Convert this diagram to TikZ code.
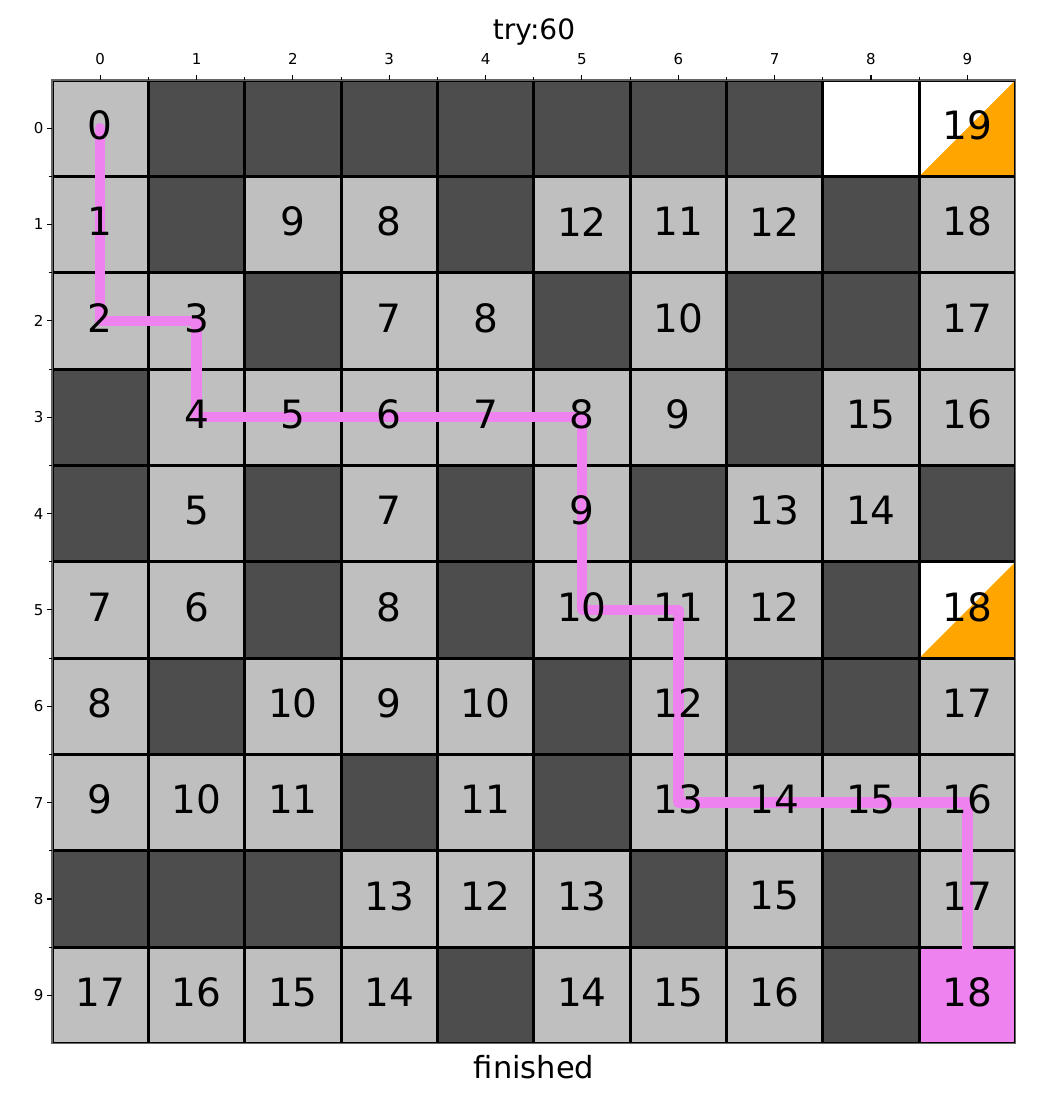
\documentclass[tikz,border=0pt]{standalone}
\usepackage{fontspec}
\setmainfont{DejaVu Sans}
\definecolor{lightc}{HTML}{BFBFBF}
\definecolor{darkc}{HTML}{4D4D4D}
\definecolor{orangec}{HTML}{FFA500}
\definecolor{pathv}{HTML}{EE82EE}
\begin{document}
\begin{tikzpicture}[x=1pt,y=-1pt,
  cellbox/.style={minimum size=96.35pt, inner sep=0pt, outer sep=0pt, draw=none},
  gridline/.style={line width=3pt, black},
  spine/.style={line width=1.1pt, black!60},
  num/.style={inner sep=0pt, font=\fontsize{39}{39}\selectfont},
  ticklab/.style={inner sep=0pt, font=\fontsize{15}{15}\selectfont},
  tickmark/.style={line width=1.1pt, black},
  route/.style={line width=10.5pt, pathv, line cap=round, line join=round}
]
\useasboundingbox (0,0) rectangle (1055,1095);
\begin{scope}
\clip (52,80) rectangle (1015.5,1043.5);
\foreach \c/\r in {1/0,2/0,3/0,4/0,5/0,6/0,7/0,
  1/1,4/1,8/1, 2/2,5/2,7/2,8/2, 0/3,7/3, 0/4,2/4,4/4,6/4,9/4,
  2/5,4/5,8/5, 1/6,5/6,7/6,8/6, 3/7,5/7, 0/8,1/8,2/8,6/8,8/8, 4/9,8/9}
  \node[cellbox, fill=darkc] (c-\c-\r) at ({52+96.35*(\c+0.5)},{80+96.35*(\r+0.5)}) {};
\foreach \c/\r/\f in {0/0/lightc,8/0/white,9/0/white,
  0/1/lightc,2/1/lightc,3/1/lightc,5/1/lightc,6/1/lightc,7/1/lightc,9/1/lightc,
  0/2/lightc,1/2/lightc,3/2/lightc,4/2/lightc,6/2/lightc,9/2/lightc,
  1/3/lightc,2/3/lightc,3/3/lightc,4/3/lightc,5/3/lightc,6/3/lightc,8/3/lightc,9/3/lightc,
  1/4/lightc,3/4/lightc,5/4/lightc,7/4/lightc,8/4/lightc,
  0/5/lightc,1/5/lightc,3/5/lightc,5/5/lightc,6/5/lightc,7/5/lightc,9/5/white,
  0/6/lightc,2/6/lightc,3/6/lightc,4/6/lightc,6/6/lightc,9/6/lightc,
  0/7/lightc,1/7/lightc,2/7/lightc,4/7/lightc,6/7/lightc,7/7/lightc,8/7/lightc,9/7/lightc,
  3/8/lightc,4/8/lightc,5/8/lightc,7/8/lightc,9/8/lightc,
  0/9/lightc,1/9/lightc,2/9/lightc,3/9/lightc,5/9/lightc,6/9/lightc,7/9/lightc,9/9/pathv}
  \node[cellbox, fill=\f] (c-\c-\r) at ({52+96.35*(\c+0.5)},{80+96.35*(\r+0.5)}) {};
\foreach \r in {0,5}
  \fill[orangec] (c-9-\r.south west) -- (c-9-\r.south east) -- (c-9-\r.north east) -- cycle;
\foreach \i in {0,...,10} {
  \draw[gridline] ({52+96.35*\i},70) -- ({52+96.35*\i},1053);
  \draw[gridline] (40,{80+96.35*\i}) -- (1025,{80+96.35*\i});
}
\end{scope}
\draw[spine] (52,80) rectangle (1015.5,1043.5);
% ticks
\foreach \i in {0,...,9} {
  \draw[tickmark] ({52+96.35*(\i+0.5)},80) -- ({52+96.35*(\i+0.5)},75.1);
  \draw[tickmark] (52,{80+96.35*(\i+0.5)}) -- (47.1,{80+96.35*(\i+0.5)});
  \node[ticklab, anchor=base] (tx-\i) at ({52+96.35*(\i+0.5)},64.5) {\i};
  \node[ticklab, anchor=east] (ty-\i) at (43.5,{80+96.35*(\i+0.5)}) {\i};
}
\foreach \i in {1,...,9} {
  \draw[tickmark] ({52+96.35*\i},80) -- ({52+96.35*\i},77.2);
  \draw[tickmark] (52,{80+96.35*\i}) -- (49.2,{80+96.35*\i});
}
% route
\draw[route] (c-0-0.center) -- (c-0-2.center) -- (c-1-2.center) -- (c-1-3.center)
  -- (c-5-3.center) -- (c-5-5.center) -- (c-6-5.center) -- (c-6-7.center)
  -- (c-9-7.center) -- (c-9-9.center);
% numbers
\foreach \c/\r/\n in {0/0/0,9/0/19,
  0/1/1,2/1/9,3/1/8,5/1/12,6/1/11,7/1/12,9/1/18,
  0/2/2,1/2/3,3/2/7,4/2/8,6/2/10,9/2/17,
  1/3/4,2/3/5,3/3/6,4/3/7,5/3/8,6/3/9,8/3/15,9/3/16,
  1/4/5,3/4/7,5/4/9,7/4/13,8/4/14,
  0/5/7,1/5/6,3/5/8,5/5/10,6/5/11,7/5/12,9/5/18,
  0/6/8,2/6/10,3/6/9,4/6/10,6/6/12,9/6/17,
  0/7/9,1/7/10,2/7/11,4/7/11,6/7/13,7/7/14,8/7/15,9/7/16,
  3/8/13,4/8/12,5/8/13,7/8/15,9/8/17,
  0/9/17,1/9/16,2/9/15,3/9/14,5/9/14,6/9/15,7/9/16,9/9/18}
  \node[num] (n-\c-\r) at ([yshift=3pt]c-\c-\r.center) {\n};
\node[anchor=base, inner sep=0pt, font=\fontsize{28}{28}\selectfont] (title) at (534,39.5) {try:60};
\node[anchor=base, inner sep=0pt, font=\fontsize{30.5}{30.5}\selectfont] (xlab) at (534,1078) {finished};
\end{tikzpicture}
\end{document}
